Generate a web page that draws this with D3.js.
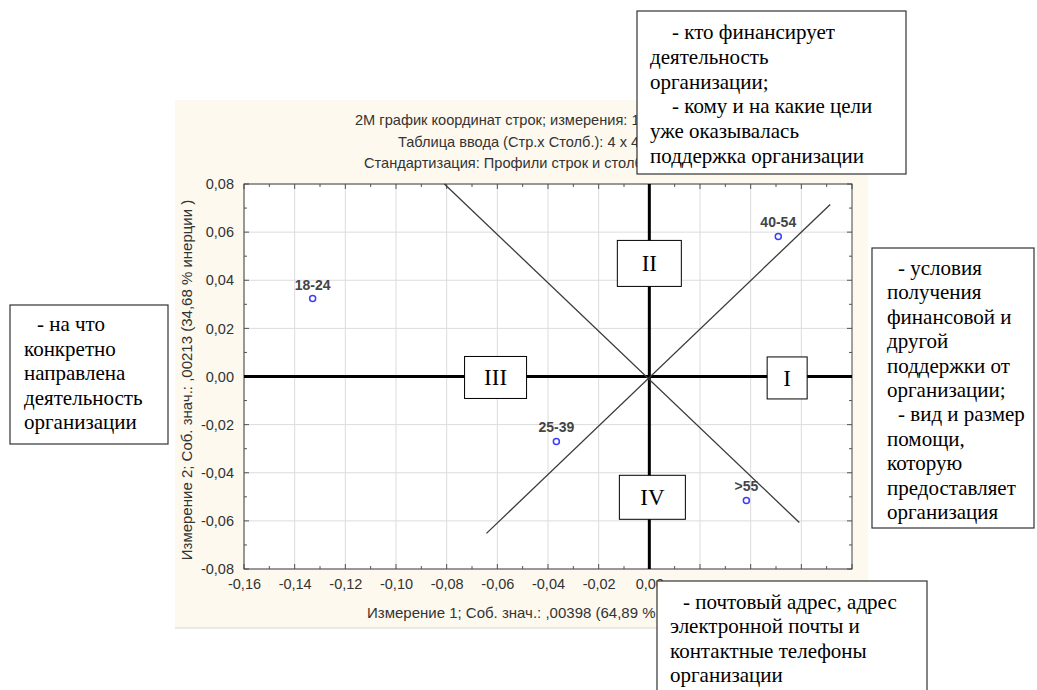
<!DOCTYPE html>
<html><head><meta charset="utf-8">
<script src="https://cdn.jsdelivr.net/npm/d3@7"></script>
<style>body{margin:0;background:#fff;} svg{display:block;}</style>
</head><body>
<svg id="c" width="1037" height="690"></svg>
<script>
// ---- data ----
const categories = ["18-24", "25-39", "40-54", ">55"];
const dim1 = [-0.1329, -0.0367, 0.0509, 0.0383];
const dim2 = [0.0324, -0.0270, 0.0582, -0.0515];
const xGrid = [-0.16, -0.14, -0.12, -0.10, -0.08, -0.06, -0.04, -0.02, 0.00, 0.02, 0.04, 0.06];
const xTickLabels = [-0.16, -0.14, -0.12, -0.10, -0.08, -0.06, -0.04, -0.02, 0.00];
const yTicks = [-0.08, -0.06, -0.04, -0.02, 0.00, 0.02, 0.04, 0.06, 0.08];
// diagonal reference lines [x1,y1,x2,y2] in data units
const diagonals = [[-0.0809, 0.0800, 0.0592, -0.0607], [-0.0643, -0.0652, 0.0714, 0.0715]];
const quadrantLabels = ["I", "II", "III", "IV"];
const quadrantX = [0.0544, 0.0000, -0.0607, 0.0012];
const quadrantY = [-0.0006, 0.0470, -0.0004, -0.0502];
const titleLines = ["2М график координат строк; измерения: 1 x 2", "Таблица ввода (Стр.x Столб.): 4 x 4", "Стандартизация:  Профили строк и столбцов"];
const xTitle = "Измерение 1; Соб. знач.: ,00398 (64,89 % инерции )";
const yTitle = "Измерение 2; Соб. знач.: ,00213 (34,68 % инерции )";
const noteTop = ["- кто финансирует", "деятельность", "организации;", "- кому и на какие цели", "уже оказывалась", "поддержка организации"];
const noteRight = ["- условия", "получения", "финансовой и", "другой", "поддержки от", "организации;", "- вид и размер", "помощи,", "которую", "предоставляет", "организация"];
const noteLeft = ["- на что", "конкретно", "направлена", "деятельность", "организации"];
const noteBottom = ["- почтовый адрес, адрес", "электронной почты и", "контактные телефоны", "организации"];

const svg = d3.select("#c");
const SANS = "Liberation Sans, Arial, sans-serif";
const SERIF = "Liberation Serif, Times New Roman, serif";
const fmt = v => d3.format(".2f")(v).replace(".", ",").replace("−", "-");
const L = 244, R = 852, T = 184, B = 569;
const x = d3.scaleLinear().domain([-0.16, 0.08]).range([L, R]);
const y = d3.scaleLinear().domain([-0.08, 0.08]).range([B, T]);

// cream background
svg.append("rect").attr("x", 175).attr("y", 100).attr("width", 693).attr("height", 528).attr("fill", "#fdf9ee");
svg.append("line").attr("x1", 175).attr("x2", 868).attr("y1", 628).attr("y2", 628).attr("stroke", "#d9d6cf").attr("stroke-width", 1);

// title
const tl = svg.append("g").attr("font-family", SANS).attr("font-size", 14.6).attr("fill", "#333");
const tX = [355, 398, 364], tY = [125, 147, 168];
titleLines.forEach((t, i) => tl.append("text").attr("x", tX[i]).attr("y", tY[i]).text(t));

// plot area
svg.append("rect").attr("x", L).attr("y", T).attr("width", R - L).attr("height", B - T).attr("fill", "#fff");
const grid = svg.append("g").attr("stroke", "#dcdcdc").attr("stroke-width", 1);
xGrid.forEach(v => grid.append("line").attr("x1", x(v)).attr("x2", x(v)).attr("y1", T).attr("y2", B));
yTicks.forEach(v => grid.append("line").attr("y1", y(v)).attr("y2", y(v)).attr("x1", L).attr("x2", R));

// axes via d3
const xAxis = d3.axisBottom(x).tickValues(xTickLabels).tickFormat(fmt).tickSize(0).tickPadding(10);
const yAxis = d3.axisLeft(y).tickValues(yTicks).tickFormat(fmt).tickSize(0).tickPadding(10);
const gx = svg.append("g").attr("transform", `translate(0,${B})`).call(xAxis);
const gy = svg.append("g").attr("transform", `translate(${L},0)`).call(yAxis);
[gx, gy].forEach(g => {
  g.select(".domain").remove();
  g.selectAll("text").attr("font-family", SANS).attr("font-size", 14.5).attr("fill", "#333");
});
// inward tick marks (major + minor)
const tk = svg.append("g").attr("stroke", "#555").attr("stroke-width", 1);
d3.range(-0.16, 0.0801, 0.01).forEach((v, i) => {
  const len = i % 2 === 0 ? 5 : 3;
  tk.append("line").attr("x1", x(v)).attr("x2", x(v)).attr("y1", B).attr("y2", B - len);
  tk.append("line").attr("x1", x(v)).attr("x2", x(v)).attr("y1", T).attr("y2", T + len);
});
d3.range(-0.08, 0.0801, 0.01).forEach((v, i) => {
  const len = i % 2 === 0 ? 5 : 3;
  tk.append("line").attr("y1", y(v)).attr("y2", y(v)).attr("x1", L).attr("x2", L + len);
  tk.append("line").attr("y1", y(v)).attr("y2", y(v)).attr("x1", R).attr("x2", R - len);
});
svg.append("rect").attr("x", L).attr("y", T).attr("width", R - L).attr("height", B - T).attr("fill", "none").attr("stroke", "#444").attr("stroke-width", 1);

// zero axes
svg.append("line").attr("x1", L).attr("x2", R).attr("y1", y(0)).attr("y2", y(0)).attr("stroke", "#000").attr("stroke-width", 3);
svg.append("line").attr("x1", x(0)).attr("x2", x(0)).attr("y1", T).attr("y2", B).attr("stroke", "#000").attr("stroke-width", 3);

// diagonals
diagonals.forEach(d => svg.append("line").attr("x1", x(d[0])).attr("y1", y(d[1])).attr("x2", x(d[2])).attr("y2", y(d[3])).attr("stroke", "#3a3a3a").attr("stroke-width", 1.3));

// axis titles
svg.append("text").attr("x", 367).attr("y", 618).attr("font-family", SANS).attr("font-size", 15).attr("fill", "#333").text(xTitle);
svg.append("text").attr("transform", "translate(192,380) rotate(-90)").attr("text-anchor", "middle").attr("font-family", SANS).attr("font-size", 15).attr("fill", "#333").text(yTitle);

// points
const pts = svg.append("g");
categories.forEach((c, i) => {
  pts.append("circle").attr("cx", x(dim1[i])).attr("cy", y(dim2[i])).attr("r", 3).attr("fill", "#fff").attr("stroke", "#3b3bff").attr("stroke-width", 1.5);
  pts.append("text").attr("x", x(dim1[i])).attr("y", y(dim2[i]) - 9).attr("text-anchor", "middle")
    .attr("font-family", SANS).attr("font-size", 14).attr("font-weight", "bold").attr("fill", "#444").text(c);
});

// quadrant label boxes
const qW = [40, 64, 62, 66], qH = [42, 46, 42, 44];
quadrantLabels.forEach((q, i) => {
  const cx = x(quadrantX[i]), cy = y(quadrantY[i]);
  svg.append("rect").attr("x", cx - qW[i] / 2).attr("y", cy - qH[i] / 2).attr("width", qW[i]).attr("height", qH[i]).attr("fill", "#fff").attr("stroke", "#000").attr("stroke-width", 1);
  svg.append("text").attr("x", cx).attr("y", cy + 8).attr("text-anchor", "middle").attr("font-family", SERIF).attr("font-size", 23).attr("fill", "#000").text(q);
});

// annotation boxes
function note(lines, bx, by, bw, bh, tx, ty, lh, indent) {
  svg.append("rect").attr("x", bx).attr("y", by).attr("width", bw).attr("height", bh).attr("fill", "#fff").attr("stroke", "#333").attr("stroke-width", 1.2);
  const g = svg.append("g").attr("font-family", SERIF).attr("font-size", 21).attr("fill", "#000");
  lines.forEach((t, i) => g.append("text").attr("x", tx + (t.startsWith("-") ? indent : 0)).attr("y", ty + i * lh).text(t));
}
note(noteTop, 637, 11, 269, 163, 650, 39, 24.8, 22);
note(noteRight, 872, 248, 162, 280, 887, 275, 24.4, 11);
note(noteLeft, 10, 305, 158, 139, 24, 331, 24.6, 13);
note(noteBottom, 657, 581, 270, 130, 670, 609, 24.3, 13);
</script>
</body></html>
